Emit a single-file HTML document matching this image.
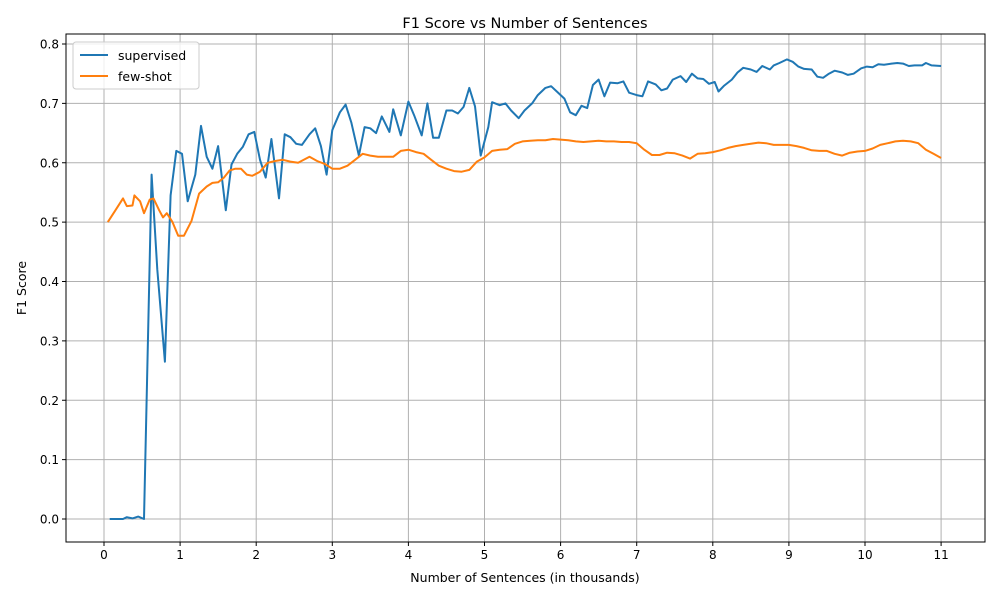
<!DOCTYPE html>
<html><head><meta charset="utf-8"><style>
body{margin:0;background:#fff;font-family:"Liberation Sans","DejaVu Sans",sans-serif}
svg text{font-family:"DejaVu Sans","Liberation Sans",sans-serif}
</style></head><body>
<svg id="chart" width="1000" height="600">
<rect width="1000" height="600" fill="#fff"/>
<g id="grid"></g><g id="axes"></g><g id="series"></g>
<text x="525" y="28" text-anchor="middle" font-size="14.5">F1 Score vs Number of Sentences</text>
<text x="525" y="582" text-anchor="middle" font-size="12.5">Number of Sentences (in thousands)</text>
<text transform="translate(26,288) rotate(-90)" text-anchor="middle" font-size="12.5">F1 Score</text>
<g>
<rect x="73" y="42" width="126" height="47" rx="3" fill="#fff" fill-opacity="0.8" stroke="#ccc"/>
<line x1="80" y1="55" x2="108" y2="55" stroke="#1f77b4" stroke-width="2"/>
<text x="118" y="60" font-size="12.5">supervised</text>
<line x1="80" y1="76" x2="108" y2="76" stroke="#ff7f0e" stroke-width="2"/>
<text x="118" y="81" font-size="12.5">few-shot</text>
</g>
</svg>
<script>
const xTicks=[0,1,2,3,4,5,6,7,8,9,10,11];
const yTicks=[0,0.1,0.2,0.3,0.4,0.5,0.6,0.7,0.8];
const supX=[0.075,0.15,0.25,0.3,0.375,0.45,0.525,0.625,0.7,0.8,0.875,0.95,1.025,1.1,1.2,1.275,1.35,1.425,1.5,1.6,1.675,1.75,1.825,1.9,1.975,2.05,2.125,2.2,2.3,2.375,2.45,2.525,2.6,2.7,2.775,2.85,2.925,3.0,3.1,3.175,3.25,3.35,3.425,3.5,3.575,3.65,3.75,3.8,3.9,4.0,4.075,4.175,4.25,4.325,4.4,4.5,4.575,4.65,4.725,4.8,4.875,4.95,5.05,5.1,5.2,5.275,5.35,5.45,5.525,5.625,5.7,5.8,5.875,5.95,6.05,6.125,6.2,6.275,6.35,6.425,6.5,6.575,6.65,6.75,6.825,6.9,7.0,7.075,7.15,7.25,7.325,7.4,7.475,7.575,7.65,7.725,7.8,7.875,7.95,8.025,8.075,8.15,8.25,8.325,8.4,8.5,8.575,8.65,8.75,8.8,8.875,8.975,9.05,9.125,9.2,9.3,9.375,9.45,9.525,9.6,9.7,9.775,9.85,9.95,10.025,10.1,10.175,10.25,10.35,10.425,10.5,10.575,10.65,10.75,10.8,10.875,11.0];
const supY=[0,0,0,0.003,0.001,0.004,0,0.58,0.42,0.265,0.545,0.62,0.615,0.535,0.58,0.662,0.61,0.59,0.628,0.52,0.597,0.615,0.627,0.648,0.652,0.605,0.575,0.64,0.54,0.648,0.643,0.632,0.63,0.648,0.658,0.628,0.58,0.655,0.685,0.698,0.668,0.612,0.66,0.658,0.65,0.678,0.652,0.69,0.646,0.703,0.68,0.646,0.7,0.642,0.642,0.688,0.688,0.683,0.694,0.726,0.695,0.612,0.66,0.702,0.697,0.7,0.688,0.675,0.688,0.7,0.714,0.726,0.729,0.72,0.708,0.685,0.68,0.696,0.692,0.731,0.74,0.712,0.735,0.734,0.737,0.718,0.714,0.712,0.737,0.732,0.722,0.725,0.74,0.746,0.736,0.75,0.742,0.741,0.733,0.736,0.72,0.73,0.74,0.752,0.76,0.757,0.753,0.763,0.757,0.764,0.768,0.774,0.77,0.762,0.758,0.757,0.745,0.743,0.75,0.755,0.752,0.748,0.75,0.759,0.762,0.761,0.766,0.765,0.767,0.768,0.767,0.763,0.764,0.764,0.768,0.764,0.763];
const fewX=[0.05,0.15,0.25,0.3,0.375,0.4,0.475,0.525,0.6,0.65,0.725,0.775,0.825,0.9,0.975,1.05,1.15,1.25,1.35,1.425,1.5,1.575,1.65,1.725,1.8,1.875,1.95,2.05,2.15,2.25,2.35,2.45,2.55,2.7,2.8,2.9,3.0,3.1,3.2,3.3,3.4,3.5,3.6,3.7,3.8,3.9,4.0,4.1,4.2,4.3,4.4,4.5,4.6,4.7,4.8,4.9,5.0,5.1,5.2,5.3,5.4,5.5,5.6,5.7,5.8,5.9,6.0,6.1,6.2,6.3,6.4,6.5,6.6,6.7,6.8,6.9,7.0,7.1,7.2,7.3,7.4,7.5,7.6,7.7,7.8,7.9,8.0,8.1,8.2,8.3,8.4,8.5,8.6,8.7,8.8,8.9,9.0,9.1,9.2,9.3,9.4,9.5,9.6,9.7,9.8,9.9,10.0,10.1,10.2,10.3,10.4,10.5,10.6,10.7,10.8,10.9,11.0];
const fewY=[0.5,0.52,0.54,0.527,0.528,0.545,0.535,0.515,0.538,0.54,0.52,0.508,0.515,0.5,0.477,0.477,0.502,0.548,0.56,0.566,0.567,0.575,0.587,0.59,0.59,0.58,0.578,0.585,0.6,0.603,0.605,0.602,0.6,0.61,0.603,0.598,0.59,0.59,0.595,0.605,0.615,0.612,0.61,0.61,0.61,0.62,0.622,0.618,0.615,0.605,0.595,0.59,0.586,0.585,0.588,0.602,0.609,0.62,0.622,0.623,0.632,0.636,0.637,0.638,0.638,0.64,0.639,0.638,0.636,0.635,0.636,0.637,0.636,0.636,0.635,0.635,0.633,0.622,0.613,0.613,0.617,0.616,0.612,0.607,0.615,0.616,0.618,0.621,0.625,0.628,0.63,0.632,0.634,0.633,0.63,0.63,0.63,0.628,0.625,0.621,0.62,0.62,0.615,0.612,0.617,0.619,0.62,0.624,0.63,0.633,0.636,0.637,0.636,0.633,0.622,0.615,0.608];
const NS='http://www.w3.org/2000/svg';
const L=66,R=985,T=34,B=542;
const sx=v=>104+v*76.1;
const sy=v=>519-v*593.75;
const grid=document.getElementById('grid'),axes=document.getElementById('axes'),ser=document.getElementById('series');
function mk(tag,attrs,parent){const e=document.createElementNS(NS,tag);for(const k in attrs)e.setAttribute(k,attrs[k]);parent.appendChild(e);return e;}
xTicks.forEach(t=>{
 const g=mk('line',{x1:sx(t),x2:sx(t),y1:T,y2:B,stroke:'#b0b0b0','stroke-width':1},grid);
 
 
 mk('line',{x1:sx(t),x2:sx(t),y1:B,y2:B+4,stroke:'#000'},axes);
 const tx=mk('text',{x:sx(t),y:B+17,'text-anchor':'middle','font-size':'12'},axes);
 tx.textContent=t;
 
 
});
yTicks.forEach(t=>{
 const g=mk('line',{x1:L,x2:R,y1:sy(t),y2:sy(t),stroke:'#b0b0b0','stroke-width':1},grid);
 
 
 mk('line',{x1:L-4,x2:L,y1:sy(t),y2:sy(t),stroke:'#000'},axes);
 const tx=mk('text',{x:L-7,y:sy(t)+4.5,'text-anchor':'end','font-size':'12'},axes);
 tx.textContent=t.toFixed(1);
 
 
});
const fr=mk('rect',{x:L,y:T,width:R-L,height:B-T,fill:'none',stroke:'#000','stroke-width':1},axes);


function line(xs,ys,color,name){
 const p=mk('polyline',{points:xs.map((x,i)=>sx(x).toFixed(1)+','+sy(ys[i]).toFixed(1)).join(' '),fill:'none',stroke:color,'stroke-width':2,'stroke-linejoin':'round'},ser);
 
 
}
line(supX,supY,'#1f77b4','supervised-line');
line(fewX,fewY,'#ff7f0e','few-shot-line');
</script>
</body></html>
